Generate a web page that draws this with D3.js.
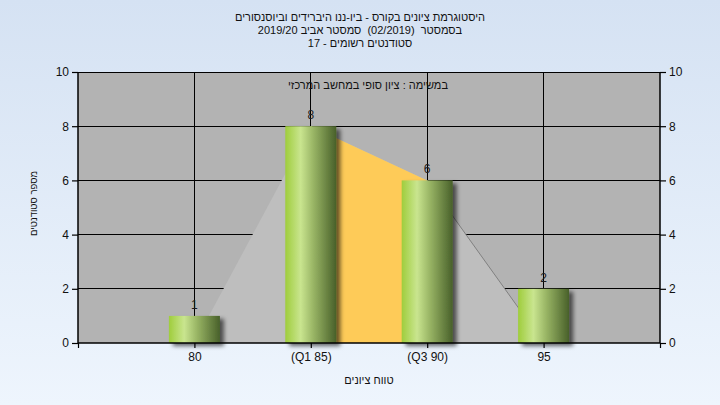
<!DOCTYPE html>
<html><head><meta charset="utf-8">
<script src="https://cdn.jsdelivr.net/npm/d3@7"></script>
<style>
html,body{margin:0;padding:0;}
svg{display:block;font-family:"Liberation Sans",Arial,sans-serif;}
.pre{white-space:pre;}
</style></head>
<body>
<svg id="chart" width="720" height="405"></svg>
<script>
// ---- data ----
const titleLines = [
  "היסטוגרמת ציונים בקורס - ביו-ננו היברידים וביוסנסורים",
  "בסמסטר  (02/2019)  סמסטר אביב 2019/20",
  "סטודנטים רשומים - 17"
];
const subTitle = "במשימה : ציון סופי במחשב המרכזי";
const categories = ["80", "(Q1 85)", "(Q3 90)", "95"];
const counts = [1, 8, 6, 2];
const spreadValues = [0, 8, 6, 0];
const quartileRange = [1, 2];
const yTicks = [0, 2, 4, 6, 8, 10];
const yTitle = "מספר סטודנטים";
const xTitle = "טווח ציונים";

(function(){
const svg = d3.select("#chart");
const W = 720, H = 405;
const pL = 78, pR = 660, pT = 72, pB = 343;

const defs = svg.append("defs");
const bg = defs.append("linearGradient").attr("id","bg").attr("x1",0).attr("y1",0).attr("x2",0).attr("y2",1);
bg.append("stop").attr("offset","0%").attr("stop-color","#d5e2f3");
bg.append("stop").attr("offset","100%").attr("stop-color","#eef5fd");
const bar = defs.append("linearGradient").attr("id","bar").attr("x1",0).attr("y1",0).attr("x2",1).attr("y2",0);
[["0%","#9fcd3c"],["30%","#c9e58f"],["55%","#99b565"],["100%","#48602a"]].forEach(s=>
  bar.append("stop").attr("offset",s[0]).attr("stop-color",s[1]));
const f = defs.append("filter").attr("id","sh").attr("x","-20%").attr("y","-20%").attr("width","150%").attr("height","150%");
f.append("feDropShadow").attr("dx",4).attr("dy",3).attr("stdDeviation",2).attr("flood-color","#000").attr("flood-opacity",0.6);

svg.append("rect").attr("width",W).attr("height",H).attr("fill","url(#bg)");

const x = d3.scaleLinear().domain([0, categories.length + 1]).range([pL, pR]);
const y = d3.scaleLinear().domain([0, 10]).range([pB, pT]);

svg.append("rect").attr("x",pL).attr("y",pT).attr("width",pR-pL).attr("height",pB-pT).attr("fill","#b3b3b3");

// grid
svg.append("g").selectAll("line").data(yTicks.filter(d=>d>0)).join("line")
  .attr("x1",pL).attr("x2",pR).attr("y1",d=>y(d)).attr("y2",d=>y(d))
  .attr("stroke","#000").attr("stroke-width",1).attr("shape-rendering","crispEdges");
svg.append("g").selectAll("line").data(categories).join("line")
  .attr("x1",(d,i)=>x(i+1)).attr("x2",(d,i)=>x(i+1)).attr("y1",pT).attr("y2",pB)
  .attr("stroke","#000").attr("stroke-width",1).attr("shape-rendering","crispEdges");

// spread area
const pts = spreadValues.map((v,i)=>[x(i+1), y(v)]);
const area = d3.area().x(d=>d[0]).y0(y(0)).y1(d=>d[1]);
svg.append("path").attr("d", area(pts)).attr("fill","#bebebe");
svg.append("path").attr("d", area(pts.slice(quartileRange[0], quartileRange[1]+1))).attr("fill","#fecb58");
svg.append("path").attr("d", d3.line()(pts.slice(quartileRange[1]))).attr("fill","none").attr("stroke","#808080").attr("stroke-width",1);

// bars
const bw = 51;
svg.append("g").selectAll("rect").data(counts).join("rect")
  .attr("x",(d,i)=>x(i+1)-bw/2).attr("width",bw)
  .attr("y",d=>y(d)).attr("height",d=>y(0)-y(d))
  .attr("fill","url(#bar)").attr("filter","url(#sh)");

// bar labels
svg.append("g").selectAll("text").data(counts).join("text")
  .attr("x",(d,i)=>x(i+1)).attr("y",d=>y(d)-7)
  .attr("text-anchor","middle").attr("font-size",12).attr("fill","#1a1a1a")
  .text(d=>d);

// axes
const axL = d3.axisLeft(y).tickValues(yTicks).tickSize(6).tickPadding(3);
const axR = d3.axisRight(y).tickValues(yTicks).tickSize(6).tickPadding(3);
const axB = d3.axisBottom(x).tickValues([0,1,2,3,4,5]).tickSize(5).tickPadding(4)
  .tickFormat(d=> (d>=1 && d<=categories.length) ? categories[d-1] : "");
function style(g){
  g.select(".domain").remove();
  g.selectAll(".tick line").attr("stroke","#000").attr("stroke-width",1.2);
  g.selectAll(".tick text").attr("font-size",12).attr("fill","#111").attr("font-family","'Liberation Sans',Arial,sans-serif");
}
svg.append("g").attr("transform",`translate(${pL},0)`).call(axL).call(style)
  .call(g=>g.append("line").attr("x1",0).attr("x2",0).attr("y1",pT).attr("y2",pB).attr("stroke","#000").attr("stroke-width",1.5));
svg.append("g").attr("transform",`translate(${pR},0)`).call(axR).call(style)
  .call(g=>g.append("line").attr("x1",0).attr("x2",0).attr("y1",pT).attr("y2",pB).attr("stroke","#000").attr("stroke-width",1.5));
svg.append("g").attr("transform",`translate(0,${pB})`).call(axB).call(style)
  .call(g=>g.append("line").attr("x1",pL).attr("x2",pR).attr("y1",0).attr("y2",0).attr("stroke","#000").attr("stroke-width",1.5));

// titles
svg.append("g").selectAll("text").data(titleLines).join("text")
  .attr("class","pre")
  .attr("x",360).attr("y",(d,i)=>21+i*13)
  .attr("text-anchor","middle").attr("direction","rtl").attr("font-size",11).attr("fill","#111")
  .text(d=>d);
svg.append("text").attr("x",368).attr("y",89).attr("text-anchor","middle").attr("direction","rtl")
  .attr("font-size",11).attr("fill","#111").text(subTitle);
svg.append("text").attr("transform",`translate(37,${(pT+pB)/2 - 4}) rotate(-90)`).attr("text-anchor","middle")
  .attr("direction","rtl").attr("font-size",9.5).attr("fill","#111").text(yTitle);
svg.append("text").attr("x",(pL+pR)/2).attr("y",384).attr("text-anchor","middle").attr("direction","rtl")
  .attr("font-size",11).attr("fill","#111").text(xTitle);
})();
</script>
</body></html>
